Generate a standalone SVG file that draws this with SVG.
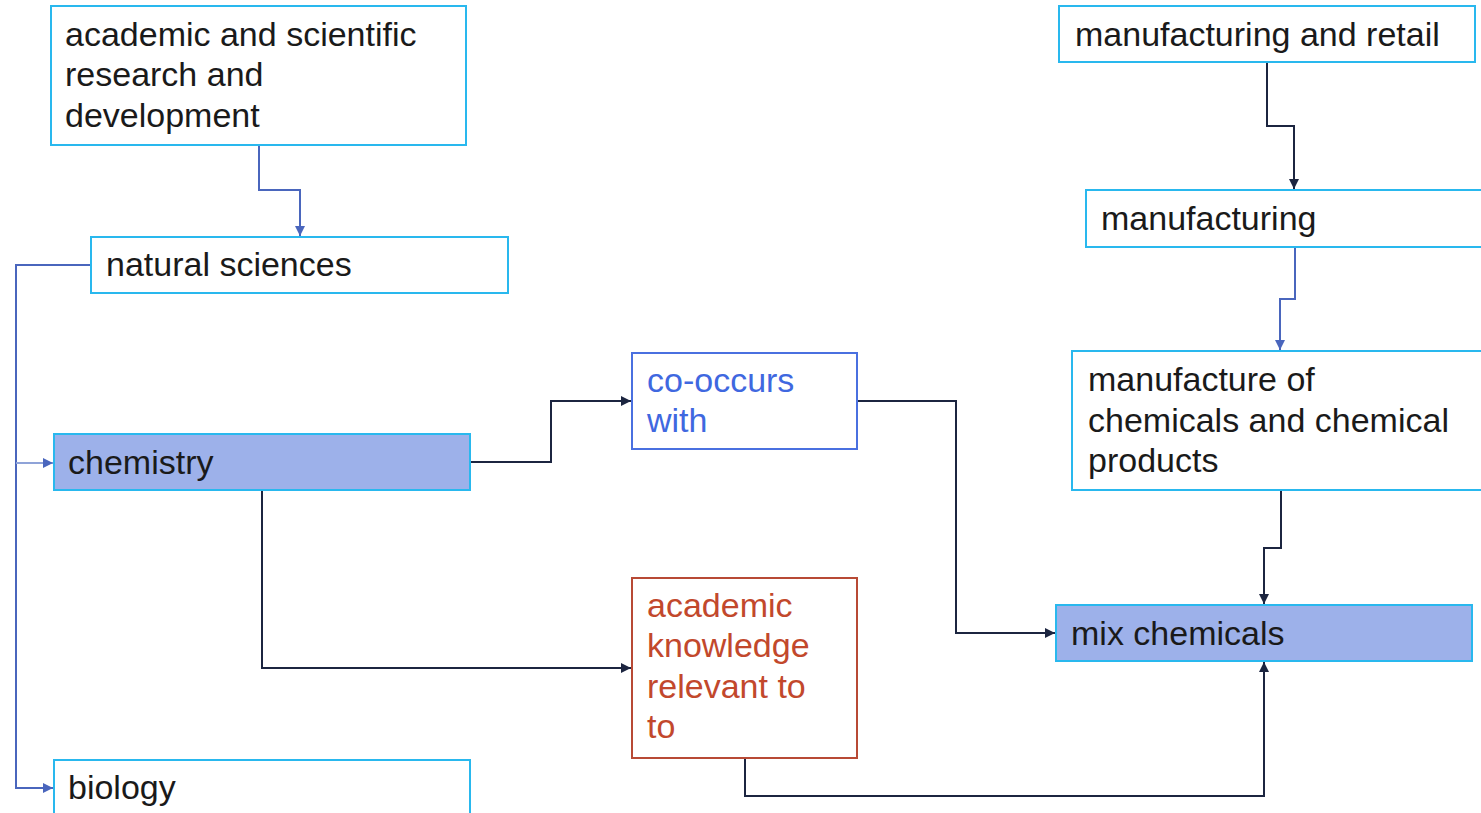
<svg xmlns="http://www.w3.org/2000/svg" width="1481" height="813" viewBox="0 0 1481 813">
<style>
text{font-family:"Liberation Sans",Arial,sans-serif;font-size:34px;fill:#1a1a1a}
.n{fill:#ffffff;stroke:#29b8ee;stroke-width:2}
.h{fill:#9db1ea;stroke:#29b8ee;stroke-width:2}
.c{fill:none;stroke-width:2}
.dk{stroke:#1c2540}
.bl{stroke:#4a66bd}
.lb{stroke:#8fa3d8}
</style>
<defs>
<marker id="ad" viewBox="0 0 10 10" refX="10" refY="5" markerWidth="10" markerHeight="10" markerUnits="userSpaceOnUse" orient="auto"><path d="M0,0L10,5L0,10z" fill="#1c2540"/></marker>
<marker id="ab" viewBox="0 0 10 10" refX="10" refY="5" markerWidth="10" markerHeight="10" markerUnits="userSpaceOnUse" orient="auto"><path d="M0,0L10,5L0,10z" fill="#4a66bd"/></marker>
</defs>
<rect width="1481" height="813" fill="#ffffff"/>
<g id="connectors">
<path class="c bl" d="M259,145V190H300V236" marker-end="url(#ab)"/>
<path class="c bl" d="M91,265H16V788H53" marker-end="url(#ab)"/>
<path class="c lb" d="M16,463H53" marker-end="url(#ab)"/>
<path class="c dk" d="M1267,62V126H1294V189" marker-end="url(#ad)"/>
<path class="c bl" d="M1295,247V299H1280V350" marker-end="url(#ab)"/>
<path class="c dk" d="M1281,490V548H1264V604" marker-end="url(#ad)"/>
<path class="c dk" d="M470,462H551V401H631" marker-end="url(#ad)"/>
<path class="c dk" d="M262,490V668H631" marker-end="url(#ad)"/>
<path class="c dk" d="M857,401H956V633H1055" marker-end="url(#ad)"/>
<path class="c dk" d="M745,758V796H1264V662" marker-end="url(#ad)"/>
</g>
<g id="n1"><rect class="n" x="51" y="6" width="415" height="139"/><text x="65" y="46">academic and scientific</text><text x="65" y="86">research and</text><text x="65" y="127">development</text></g>
<g id="n2"><rect class="n" x="91" y="237" width="417" height="56"/><text x="106" y="276">natural sciences</text></g>
<g id="n3"><rect class="h" x="54" y="434" width="416" height="56"/><text x="68" y="474">chemistry</text></g>
<g id="n4"><rect class="n" x="54" y="760" width="416" height="70"/><text x="68" y="799">biology</text></g>
<g id="n5"><rect x="632" y="353" width="225" height="96" fill="#ffffff" stroke="#4a70e0" stroke-width="2"/><text x="647" y="392" style="fill:#3f68e0">co-occurs</text><text x="647" y="432" style="fill:#3f68e0">with</text></g>
<g id="n6"><rect x="632" y="578" width="225" height="180" fill="#ffffff" stroke="#b84a35" stroke-width="2"/><text x="647" y="617" style="fill:#c2482c">academic</text><text x="647" y="657" style="fill:#c2482c">knowledge</text><text x="647" y="698" style="fill:#c2482c">relevant to</text><text x="647" y="738" style="fill:#c2482c">to</text></g>
<g id="n7"><rect class="n" x="1059" y="6" width="416" height="56"/><text x="1075" y="46">manufacturing and retail</text></g>
<g id="n8"><rect class="n" x="1086" y="190" width="420" height="57"/><text x="1101" y="230">manufacturing</text></g>
<g id="n9"><rect class="n" x="1072" y="351" width="430" height="139"/><text x="1088" y="391">manufacture of</text><text x="1088" y="432">chemicals and chemical</text><text x="1088" y="472">products</text></g>
<g id="n10"><rect class="h" x="1056" y="605" width="416" height="56"/><text x="1071" y="645">mix chemicals</text></g>
</svg>
